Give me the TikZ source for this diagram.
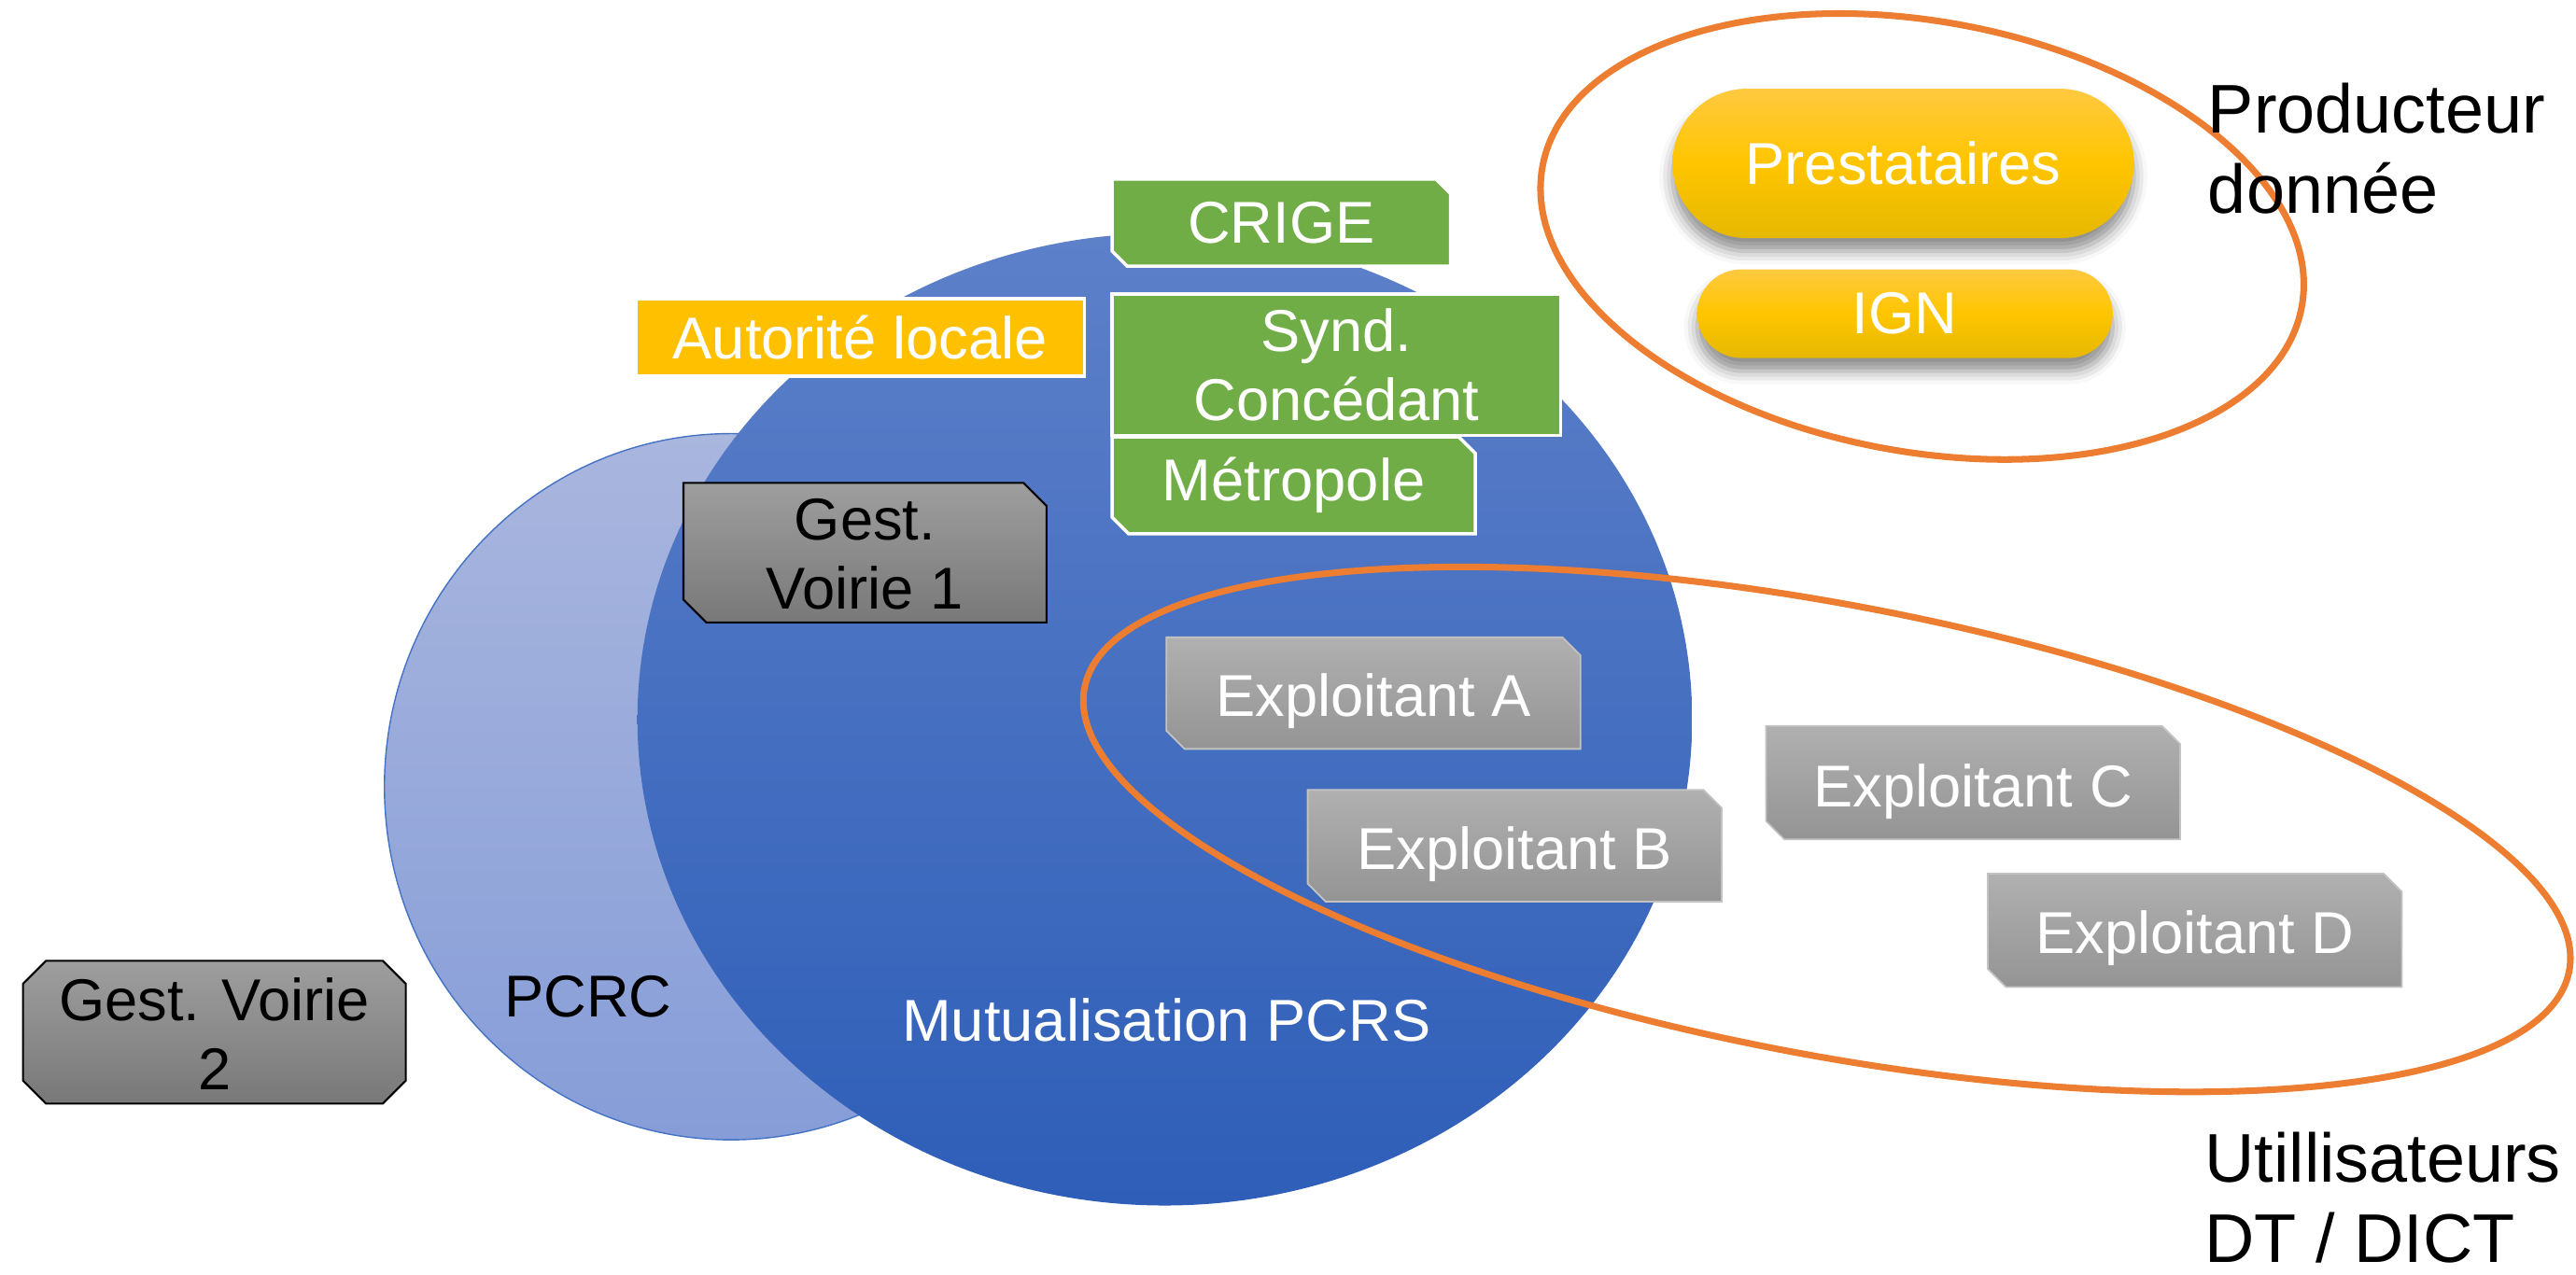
\documentclass[tikz,border=0pt]{standalone}
\usepackage{fontspec}
\setmainfont{Liberation Sans}
\usetikzlibrary{shapes.misc,shadows.blur}

\definecolor{pcrstop}{RGB}{93,128,201}
\definecolor{pcrsbot}{RGB}{46,94,184}
\definecolor{pcrctop}{RGB}{169,182,222}
\definecolor{pcrcbot}{RGB}{134,157,216}
\definecolor{pcrcline}{RGB}{68,114,196}
\definecolor{crgreen}{RGB}{112,173,71}
\definecolor{alyellow}{RGB}{255,192,0}
\definecolor{pilltop}{RGB}{255,201,64}
\definecolor{pillmid}{RGB}{255,197,0}
\definecolor{pillbot}{RGB}{229,184,0}
\definecolor{exptop}{RGB}{176,176,176}
\definecolor{expbot}{RGB}{148,148,148}
\definecolor{expline}{RGB}{195,195,195}
\definecolor{gesttop}{RGB}{158,158,158}
\definecolor{gestbot}{RGB}{120,120,120}
\definecolor{zoneorange}{RGB}{237,125,49}

\newcommand\pxu{0.017596cm}
% box with the top right and bottom left corners cut
\newcommand\snip[6]{%
  \path[#1] (#2,#3) -- (#4-#6,#3) -- (#4,#3+#6) -- (#4,#5)
    -- (#2+#6,#5) -- (#2,#5-#6) -- cycle;}

\begin{document}
\begin{tikzpicture}[x=0.017596cm, y=-0.017596cm,
    txt/.style={font=\fontsize{18}{21}\selectfont, align=center, text=white},
    big/.style={font=\fontsize{21}{24.5}\selectfont, align=left, anchor=west},
    flatbox/.style={draw=white, line width=1pt, inner sep=0pt},
    greenbox/.style={fill=crgreen, draw=white, line width=1pt},
    expbox/.style={shade, top color=exptop, bottom color=expbot, draw=expline, line width=0.5pt},
    gestbox/.style={shade, top color=gesttop, bottom color=gestbot, draw=black, line width=0.6pt},
    pill/.style={rounded rectangle, inner sep=0pt, top color=pilltop, bottom color=pillbot,
      middle color=pillmid, blur shadow={shadow xshift=0pt, shadow yshift=-4pt,
      shadow blur radius=4pt, shadow opacity=45}},
    zone/.style={draw=zoneorange, line width=2pt}]

  \useasboundingbox (0,0) rectangle (1568,776);

  % the two circles
  \shade[top color=pcrctop, bottom color=pcrcbot, draw=pcrcline, line width=0.4pt]
    (445,479) ellipse [x radius=211, y radius=215];
  \shade[top color=pcrstop, bottom color=pcrsbot]
    (709,438) ellipse [x radius=321, y radius=296];
  \node[txt, text=black] (pcrc) at (358,607) {PCRC};
  \node[txt] (pcrs) at (710,621) {Mutualisation PCRS};

  % orange zones
  \draw[zone, rotate around={-10.5:(1170,144)}] (1170,144) ellipse [x radius=235, y radius=131];
  \draw[zone, rotate around={-10.8:(1112,505)}] (1112,505) ellipse [x radius=460, y radius=137];

  % collectivities
  \snip{greenbox}{677}{109}{883}{162}{9}
  \node[txt] (crige) at (780,135.5) {CRIGE};
  \node[flatbox, fill=alyellow, txt, minimum width=273*\pxu, minimum height=47*\pxu]
    (autorite) at (523.5,205.5) {Autorité locale};
  \node[flatbox, fill=crgreen, txt, minimum width=273*\pxu, minimum height=86*\pxu]
    (synd) at (813.5,222) {Synd.\\Concédant};
  \snip{greenbox}{677}{266}{898}{325}{10}
  \node[txt] (metro) at (787.5,295.5) {Métropole};

  % road managers
  \snip{gestbox}{416}{294}{637}{379}{14}
  \node[txt, text=black] (gest1) at (526.5,337.5) {Gest.\\Voirie 1};
  \path[gestbox] (28,585) -- (233,585) -- (247,599) -- (247,658) -- (233,672)
    -- (28,672) -- (14,658) -- (14,599) -- cycle;
  \node[txt, text=black] (gest2) at (130.5,629.5) {Gest. Voirie\\2};

  % network operators
  \snip{expbox}{710}{388}{962}{456}{11}
  \node[txt] (expa) at (836,427) {Exploitant A};
  \snip{expbox}{796}{481}{1048}{549}{11}
  \node[txt] (expb) at (922,520) {Exploitant B};
  \snip{expbox}{1075}{442}{1327}{511}{11}
  \node[txt] (expc) at (1201,482) {Exploitant C};
  \snip{expbox}{1210}{532}{1462}{601}{11}
  \node[txt] (expd) at (1336,571.5) {Exploitant D};

  % data producers
  \node[pill, txt, minimum width=281*\pxu, minimum height=91*\pxu]
    (prest) at (1158.5,99.5) {Prestataires};
  \node[pill, txt, minimum width=253*\pxu, minimum height=54*\pxu]
    (ign) at (1159.5,191) {IGN};

  \node[big] (prod) at (1337,90.5) {Producteur\\donnée};
  \node[big] (users) at (1335,729) {Utillisateurs\\DT / DICT};
\end{tikzpicture}
\end{document}
